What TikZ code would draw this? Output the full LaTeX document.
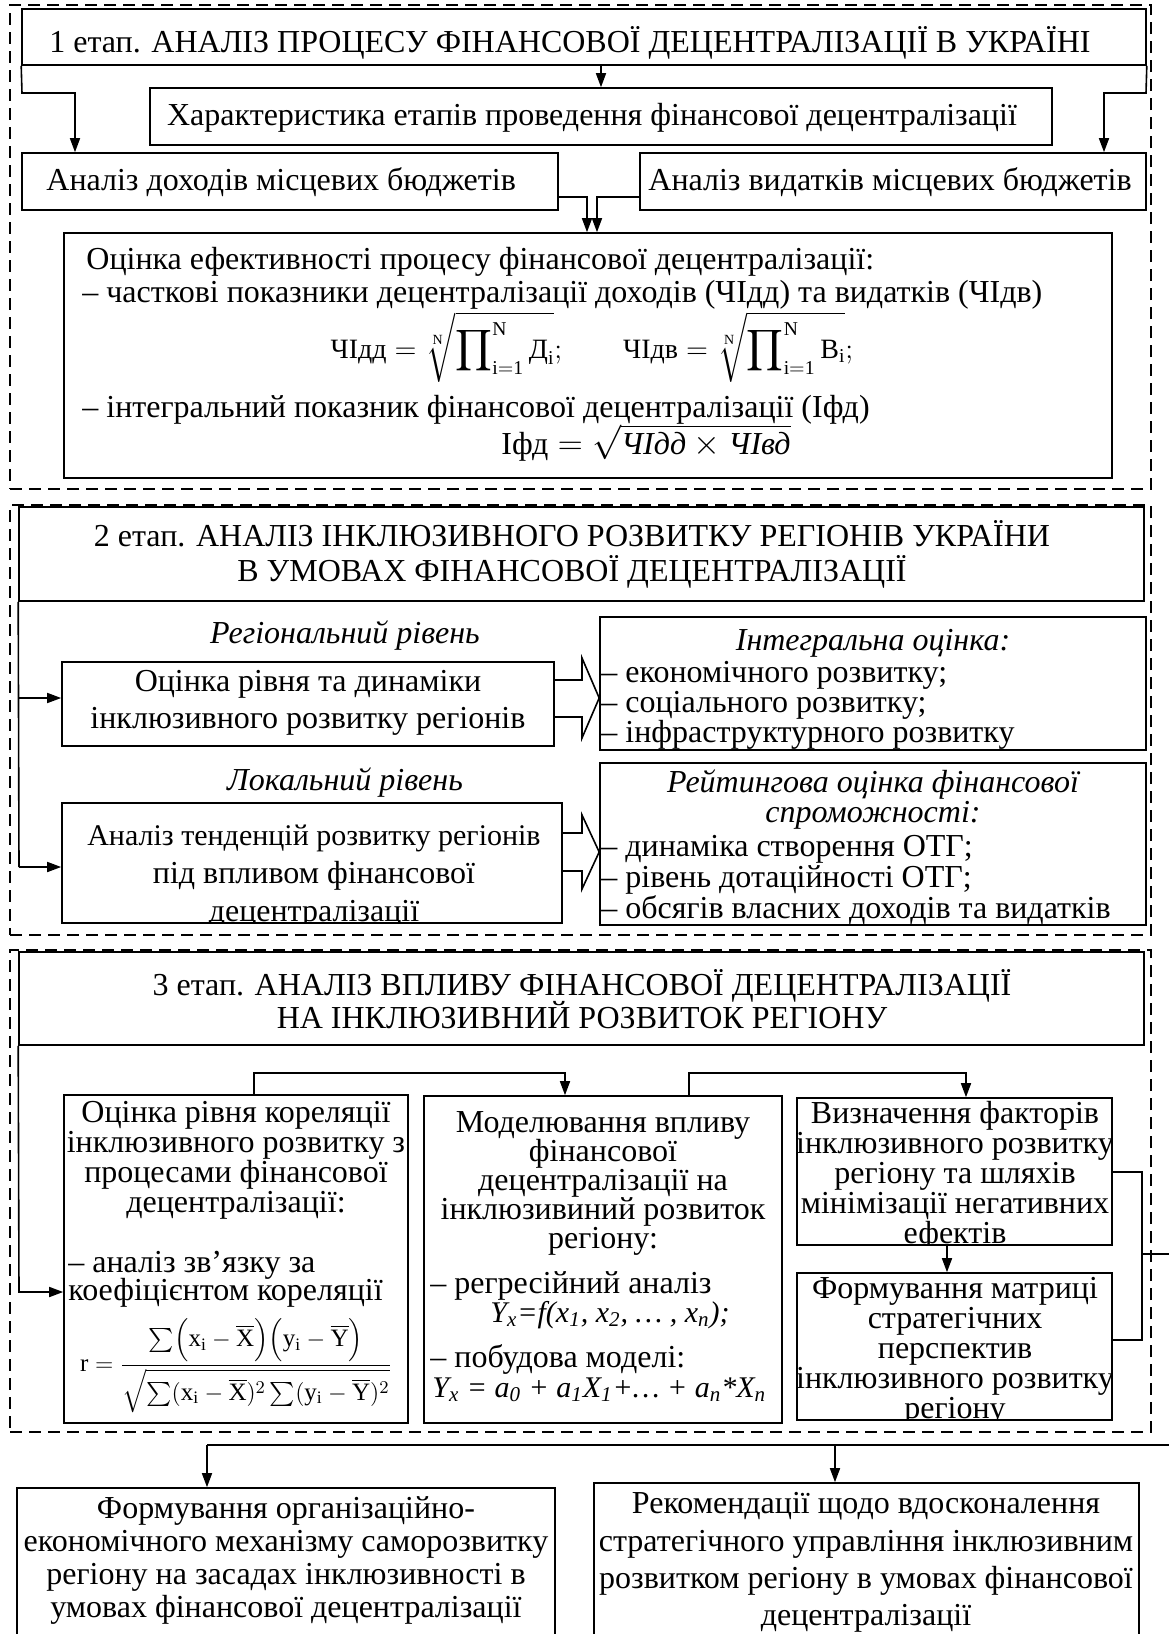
\documentclass[tikz,border=0pt]{standalone}
\usepackage{amsmath}
\usepackage{fontspec}
\setmainfont{Liberation Serif}
\usetikzlibrary{arrows.meta,fit}
\newcommand\fs{\fontsize{16}{18}\selectfont}
\newcommand\fsm{\fontsize{14}{16}\selectfont}
\newcommand\fsr{\fontsize{12.5}{14}\selectfont}
\newcommand\fsy{\fontsize{15}{17}\selectfont}
\tikzset{
  box/.style={draw, line width=0.8pt, inner sep=0pt},
  dbox/.style={draw, line width=0.8pt, inner sep=0pt, dash pattern=on 6pt off 3.5pt},
  conn/.style={line width=0.8pt},
  arr/.style={line width=0.8pt, -{Triangle[length=7pt,width=5pt]}},
  tc/.style={anchor=base, inner sep=0pt, font=\fs},
  tl/.style={anchor=base west, inner sep=0pt, font=\fs},
}
\begin{document}
\begin{tikzpicture}[x=0.5pt,y=-0.5pt]
\useasboundingbox (0,0) rectangle (1168,1634);
% ---------- section frames
\node[dbox, fit={(10,5) (1151,489)}] (sec1) {};
\node[dbox, fit={(10,505) (1151,935)}] (sec2) {};
\node[dbox, fit={(10,950) (1151,1432)}] (sec3) {};
% ---------- section 1
\node[box, fit={(22,9) (1146,65)}] (t1) {};
\node[tc] (t1x) at (570,52) {1 етап. АНАЛІЗ ПРОЦЕСУ ФІНАНСОВОЇ ДЕЦЕНТРАЛІЗАЦІЇ В УКРАЇНІ};
\node[box, fit={(150,88) (1052,145)}] (char) {};
\node[tc] (charx) at (592,125) {Характеристика етапів проведення фінансової децентралізації};
\node[box, fit={(22,153) (558,210)}] (dox) {};
\node[tl] (doxx) at (46,190) {Аналіз доходів місцевих бюджетів};
\node[box, fit={(640,153) (1146,210)}] (vyd) {};
\node[tl] (vydx) at (648,190) {Аналіз видатків місцевих бюджетів};
\node[box, fit={(64,233) (1112,478)}] (eval) {};
\node[tl] (ev1) at (86,269) {Оцінка ефективності процесу фінансової децентралізації:};
\node[tl] (ev2) at (82,302) {– часткові показники децентралізації доходів (ЧІдд) та видатків (ЧІдв)};
\node[tc, font=\fsm] (ev3) at (592,358) {$\text{ЧІдд} = \sqrt[\mathrm{N}]{\displaystyle\prod\nolimits_{\mathrm{i=1}}^{\mathrm{N}}\text{Д}_{\mathrm{i}}};\qquad \text{ЧІдв} = \sqrt[\mathrm{N}]{\displaystyle\prod\nolimits_{\mathrm{i=1}}^{\mathrm{N}}\text{В}_{\mathrm{i}}};$};
\node[tl] (ev4) at (82,417) {– інтегральний показник фінансової децентралізації (Іфд)};
\node[tc] (ev5) at (646,454) {$\text{Іфд} =\sqrt{\textit{ЧІдд}\times\textit{ЧІвд}}$};
% connectors section 1
\draw[arr] (char.north |- t1.south) -- (char.north);
\draw[arr] (t1.south west) -- (22,93) -- (75,93) -- (75,0 |- dox.north);
\draw[arr] (t1.south east) -- (1146,93) -- (1104,93) -- (1104,0 |- vyd.north);
\draw[arr] (dox.east |- 0,197) -- (587,197) -- (587,0 |- eval.north);
\draw[arr] (vyd.west |- 0,197) -- (597,197) -- (597,0 |- eval.north);
% ---------- section 2
\node[box, fit={(19,507) (1144,601)}] (t2) {};
\node[tc] (t2a) at (572,546) {2 етап. АНАЛІЗ ІНКЛЮЗИВНОГО РОЗВИТКУ РЕГІОНІВ УКРАЇНИ};
\node[tc] (t2b) at (572,581) {В УМОВАХ ФІНАНСОВОЇ ДЕЦЕНТРАЛІЗАЦІЇ};
\node[tc] (lev1) at (345,643) {\itshape Регіональний рівень};
\node[box, fit={(62,662) (554,746)}] (o1) {};
\node[tc] (o1a) at (308,691) {Оцінка рівня та динаміки};
\node[tc] (o1b) at (308,728) {інклюзивного розвитку регіонів};
\node[tc] (lev2) at (345,790) {\itshape Локальний рівень};
\begin{scope}
\clip (62,803) rectangle (562,923);
\node[tc, font=\fsy] (o2a) at (314,845) {Аналіз тенденцій розвитку регіонів};
\node[tc] (o2b) at (314,883) {під впливом фінансової};
\node[tc] (o2c) at (314,921) {децентралізації};
\end{scope}
\node[box, fit={(62,803) (562,923)}] (o2) {};
\node[box, fit={(600,617) (1146,750)}] (r1) {};
\node[tc] (r1a) at (873,650) {\itshape Інтегральна оцінка:};
\node[tl] (r1b) at (601,682) {– економічного розвитку;};
\node[tl] (r1c) at (601,712) {– соціального розвитку;};
\node[tl] (r1d) at (601,742) {– інфраструктурного розвитку};
\node[box, fit={(600,763) (1146,925)}] (r2) {};
\node[tc] (r2a) at (873,792) {\itshape Рейтингова оцінка фінансової};
\node[tc] (r2b) at (873,822) {\itshape спроможності:};
\node[tl] (r2c) at (601,856) {– динаміка створення ОТГ;};
\node[tl] (r2d) at (601,887) {– рівень дотаційності ОТГ;};
\node[tl] (r2e) at (601,918) {– обсягів власних доходів та видатків};
% connectors section 2
\draw[conn] (t2.south west) -- (19,867);
\draw[arr] (19,698) -- (o1.west |- 0,698);
\draw[arr] (19,867) -- (o2.west |- 0,867);
\draw[conn] (o1.east |- 0,680) -- (582,680) -- (582,658) -- (r1.west |- 0,698) -- (582,738) -- (582,717) -- (o1.east |- 0,717);
\draw[conn] (o2.east |- 0,833) -- (582,833) -- (582,815) -- (r2.west |- 0,852) -- (582,889) -- (582,871) -- (o2.east |- 0,871);
% ---------- section 3
\node[box, fit={(19,952) (1144,1045)}] (t3) {};
\node[tc] (t3a) at (582,995) {3 етап. АНАЛІЗ ВПЛИВУ ФІНАНСОВОЇ ДЕЦЕНТРАЛІЗАЦІЇ};
\node[tc] (t3b) at (582,1028) {НА ІНКЛЮЗИВНИЙ РОЗВИТОК РЕГІОНУ};
\node[box, fit={(64,1095) (408,1423)}] (b1) {};
\node[tc] (b1a) at (236,1122) {Оцінка рівня кореляції};
\node[tc] (b1b) at (236,1152) {інклюзивного розвитку з};
\node[tc] (b1c) at (236,1182) {процесами фінансової};
\node[tc] (b1d) at (236,1212) {децентралізації:};
\node[tl] (b1e) at (68,1272) {– аналіз зв’язку за};
\node[tl] (b1f) at (68,1300) {коефіцієнтом кореляції};
\node[inner sep=0pt, font=\fsr] (b1g) at (236,1366) {$\displaystyle \mathrm{r} = \frac{\sum\Bigl(\mathrm{x_i}-\overline{\mathrm{X}}\Bigr)\Bigl(\mathrm{y_i}-\overline{\mathrm{Y}}\Bigr)}{\sqrt{\sum(\mathrm{x_i}-\overline{\mathrm{X}})^2\sum(\mathrm{y_i}-\overline{\mathrm{Y}})^2}}$};
\node[box, fit={(424,1096) (782,1423)}] (b2) {};
\node[tc] (b2a) at (603,1132) {Моделювання впливу};
\node[tc] (b2b) at (603,1161) {фінансової};
\node[tc] (b2c) at (603,1190) {децентралізації на};
\node[tc] (b2d) at (603,1219) {інклюзивиний розвиток};
\node[tc] (b2e) at (603,1248) {регіону:};
\node[tl] (b2f) at (430,1293) {– регресійний аналіз};
\node[tl, font=\fsy] (b2g) at (490,1322) {\itshape Y\textsubscript{x}=f(x\textsubscript{1}, x\textsubscript{2}, … , x\textsubscript{n});};
\node[tl] (b2h) at (430,1367) {– побудова моделі:};
\node[tl, font=\fsy] (b2i) at (432,1397) {\itshape Y\textsubscript{x} = a\textsubscript{0} + a\textsubscript{1}X\textsubscript{1}+… + a\textsubscript{n}*X\textsubscript{n}};
\begin{scope}
\clip (797,1098) rectangle (1112,1245);
\node[tc] (b3a) at (955,1123) {Визначення факторів};
\node[tc] (b3b) at (955,1153) {інклюзивного розвитку};
\node[tc] (b3c) at (955,1183) {регіону та шляхів};
\node[tc] (b3d) at (955,1213) {мінімізації негативних};
\node[tc] (b3e) at (955,1243) {ефектів};
\end{scope}
\node[box, fit={(797,1098) (1112,1245)}] (b3) {};
\begin{scope}
\clip (797,1273) rectangle (1112,1420);
\node[tc] (b4a) at (955,1298) {Формування матриці};
\node[tc] (b4b) at (955,1328) {стратегічних};
\node[tc] (b4c) at (955,1358) {перспектив};
\node[tc] (b4d) at (955,1388) {інклюзивного розвитку};
\node[tc] (b4e) at (955,1418) {регіону};
\end{scope}
\node[box, fit={(797,1273) (1112,1420)}] (b4) {};
% connectors section 3
\draw[arr] (t3.south west) -- (19,1292) -- (b1.west |- 0,1292);
\draw[arr] (254,0 |- b1.north) -- (254,1073) -- (565,1073) -- (565,0 |- b2.north);
\draw[arr] (689,0 |- b2.north) -- (689,1073) -- (966,1073) -- (966,0 |- b3.north);
\draw[arr] (947,0 |- b3.south) -- (947,0 |- b4.north);
\draw[conn] (b3.east |- 0,1172) -- (1142,1172) -- (1142,1340) -- (b4.east |- 0,1340);
% ---------- bottom
\node[box, fit={(17,1488) (555,1660)}] (lb) {};
\node[tc] (lba) at (286,1518) {Формування організаційно-};
\node[tc] (lbb) at (286,1551) {економічного механізму саморозвитку};
\node[tc] (lbc) at (286,1584) {регіону на засадах інклюзивності в};
\node[tc] (lbd) at (286,1617) {умовах фінансової децентралізації};
\node[box, fit={(594,1483) (1139,1660)}] (rb) {};
\node[tc] (rba) at (866,1513) {Рекомендації щодо вдосконалення};
\node[tc] (rbb) at (866,1551) {стратегічного управління інклюзивним};
\node[tc] (rbc) at (866,1588) {розвитком регіону в умовах фінансової};
\node[tc] (rbd) at (866,1625) {децентралізації};
\coordinate (outr) at (1190,1254);
\coordinate (outb) at (1190,1445);
\draw[conn] (1142,1254) -- (outr) -- (outb) -- (207,1445);
\draw[arr] (207,1445) -- (207,0 |- lb.north);
\draw[arr] (835,1445) -- (835,0 |- rb.north);
\end{tikzpicture}
\end{document}
